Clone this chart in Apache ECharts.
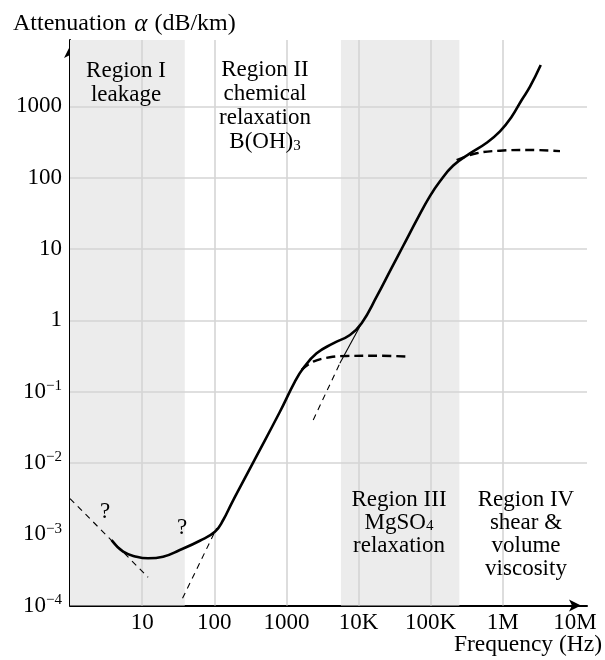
<!DOCTYPE html>
<html><head><meta charset="utf-8">
<script src="https://cdn.jsdelivr.net/npm/echarts@6/dist/echarts.min.js"></script>
<style>html,body{margin:0;padding:0;background:#fff}#c{width:605px;height:660px}</style>
</head><body><div id="c"></div>
<script>
// ---- tick labels ----
const xTickValues = [10, 100, 1000, 1e4, 1e5, 1e6, 1e7];
const xTickLabels = ['10', '100', '1000', '10K', '100K', '1M', '10M'];
const yTickValues = [1e-4, 1e-3, 1e-2, 1e-1, 1, 10, 100, 1000];
const yTickLabels = ['10^−4', '10^−3', '10^−2', '10^−1', '1', '10', '100', '1000'];
const xGridValues = [10, 100, 1000, 1e4, 1e5, 1e6];
const yGridValues = [1e-3, 1e-2, 1e-1, 1, 10, 100, 1000];
// shaded frequency bands (Hz)
const shadeBands = [[1, 39], [5700, 250000]];

// ---- total attenuation curve ----
const mainFreq = [3.76, 5.46, 8.36, 12.1, 19.5, 33.3, 63.1, 102, 133, 174, 239, 347, 813, 1312, 1710, 2624, 4457, 7603, 11040, 17820, 28770, 41690, 67300, 97720, 134600, 205600, 350800, 598400, 914100, 1327000, 1828000, 2382000, 3357000];
const mainAtten = [8.3e-4, 5.69e-4, 4.83e-4, 4.59e-4, 4.83e-4, 6.0e-4, 8.1e-4, 1.08e-3, 1.58e-3, 2.71e-3, 5.0e-3, 0.0102, 0.0522, 0.138, 0.212, 0.344, 0.475, 0.622, 0.908, 2.14, 5.42, 11.1, 27.9, 55, 89, 148, 219, 309, 447, 716, 1230, 1888, 3802];

// ---- B(OH)3 relaxation plateau ----
const boricFreq = [1626, 2355, 4009, 6839, 19820, 46450];
const boricAtten = [0.201, 0.263, 0.303, 0.316, 0.318, 0.31];

// ---- MgSO4 relaxation plateau ----
const mgFreq = [229100, 434500, 914100, 2143000, 6209000];
const mgAtten = [177, 220, 239, 245, 236];

// ---- leakage asymptote ----
const leakFreq = [1, 12.1];
const leakAtten = [3.16e-3, 2.49e-4];

// ---- rising asymptote near 100 Hz ----
const riseFreq = [36.3, 107.6];
const riseAtten = [1.26e-4, 1.21e-3];

// ---- thin asymptote near 10K (dashed part, solid part) ----
const thinDashFreq = [2355, 5508];
const thinDashAtten = [0.040, 0.249];
const thinSolidFreq = [5508, 11040];
const thinSolidAtten = [0.249, 0.908];

const FONT = "'Liberation Serif','Times New Roman',serif";
const pairs = (xs, ys) => xs.map((x, i) => [x, ys[i]]);
function lookup(vals, labels, v) {
  const lv = Math.log10(v);
  for (let i = 0; i < vals.length; i++) {
    if (Math.abs(Math.log10(vals[i]) - lv) < 1e-6) return labels[i];
  }
  return '';
}

const chart = echarts.init(document.getElementById('c'), null, {renderer: 'canvas'});

function lineSeries(data, width, dash, smooth) {
  return {
    type: 'line', data: data, symbol: 'none', showSymbol: false, silent: true,
    smooth: smooth, z: 5,
    lineStyle: {color: '#000', width: width, type: dash}
  };
}

const axisLine = {
  show: true, symbol: ['none', 'arrow'], symbolSize: [9, 12], symbolOffset: [0, -6],
  lineStyle: {color: '#000', width: 2}
};

const option = {
  animation: false,
  backgroundColor: '#fff',
  grid: {left: 70, right: 18, top: 40, bottom: 54.5, containLabel: false},
  xAxis: {
    type: 'log', logBase: 10, min: 1, max: 1.47e7,
    axisLine: axisLine, axisTick: {show: false}, splitLine: {show: false},
    axisLabel: {
      margin: 6, color: '#000', fontFamily: FONT, fontSize: 23, lineHeight: 23,
      formatter: v => lookup(xTickValues, xTickLabels, v)
    }
  },
  yAxis: {
    type: 'log', logBase: 10, min: 1e-4, max: 8530,
    axisLine: axisLine, axisTick: {show: false}, splitLine: {show: false},
    axisLabel: {
      margin: 8, color: '#000',
      formatter: v => {
        const t = lookup(yTickValues, yTickLabels, v);
        if (!t) return '';
        const p = t.split('^');
        return p.length > 1 ? '{b|' + p[0] + '}{s|' + p[1] + '}' : '{b|' + t + '}';
      },
      rich: {
        b: {fontFamily: FONT, fontSize: 23, color: '#000', lineHeight: 26},
        s: {fontFamily: FONT, fontSize: 15, color: '#000', verticalAlign: 'top', lineHeight: 16}
      }
    }
  },
  series: [
    {
      type: 'line', data: [], silent: true, z: 1,
      markArea: {
        silent: true, itemStyle: {color: '#ececec'},
        data: shadeBands.map(b => [{xAxis: b[0]}, {xAxis: b[1]}])
      }
    },
    {
      type: 'line', data: [], silent: true, z: 2,
      markLine: {
        silent: true, symbol: ['none', 'none'], label: {show: false},
        lineStyle: {color: '#d5d5d5', width: 1.6, type: 'solid'},
        emphasis: {disabled: true},
        data: xGridValues.map(v => ({xAxis: v})).concat(yGridValues.map(v => ({yAxis: v})))
      }
    },
    lineSeries(pairs(mainFreq, mainAtten), 2.6, 'solid', 0.45),
    lineSeries(pairs(boricFreq, boricAtten), 2.4, [9, 5], 0.4),
    lineSeries(pairs(mgFreq, mgAtten), 2.4, [9, 5], 0.4),
    lineSeries(pairs(leakFreq, leakAtten), 1.1, [6, 5], false),
    lineSeries(pairs(riseFreq, riseAtten), 1.1, [6, 5], false),
    lineSeries(pairs(thinDashFreq, thinDashAtten), 1.1, [6, 5], false),
    lineSeries(pairs(thinSolidFreq, thinSolidAtten), 1.1, 'solid', false)
  ],
  graphic: [
    {type: 'text', x: 13, y: 24, z: 10, style: {
      text: 'Attenuation {a|α} (dB/km)', fontFamily: FONT, fontSize: 24, fill: '#000',
      verticalAlign: 'middle', align: 'left',
      rich: {a: {fontFamily: FONT, fontSize: 25, fontStyle: 'italic', fill: '#000', padding: [0, 1, 0, 2]}}
    }},
    {type: 'text', x: 602, y: 645, z: 10, style: {
      text: 'Frequency (Hz)', fontFamily: FONT, fontSize: 23.5, fill: '#000',
      verticalAlign: 'middle', align: 'right'
    }},
    {type: 'text', x: 126, y: 59, z: 10, style: {
      text: 'Region I\nleakage', fontFamily: FONT, fontSize: 23, lineHeight: 24, fill: '#000',
      align: 'center', verticalAlign: 'top'
    }},
    {type: 'text', x: 265, y: 58, z: 10, style: {
      text: 'Region II\nchemical\nrelaxation\nB(OH){sub|3}', fontFamily: FONT, fontSize: 23, lineHeight: 24, fill: '#000',
      align: 'center', verticalAlign: 'top',
      rich: {sub: {fontFamily: FONT, fontSize: 15, verticalAlign: 'bottom', fill: '#000', lineHeight: 16}}
    }},
    {type: 'text', x: 399, y: 488, z: 10, style: {
      text: 'Region III\nMgSO{sub|4}\nrelaxation', fontFamily: FONT, fontSize: 23, lineHeight: 23, fill: '#000',
      align: 'center', verticalAlign: 'top',
      rich: {sub: {fontFamily: FONT, fontSize: 15, verticalAlign: 'bottom', fill: '#000', lineHeight: 16}}
    }},
    {type: 'text', x: 526, y: 488, z: 10, style: {
      text: 'Region IV\nshear &\nvolume\nviscosity', fontFamily: FONT, fontSize: 23, lineHeight: 23, fill: '#000',
      align: 'center', verticalAlign: 'top'
    }},
    {type: 'text', x: 105, y: 512, z: 10, style: {
      text: '?', fontFamily: FONT, fontSize: 23, fill: '#000', align: 'center', verticalAlign: 'middle'
    }},
    {type: 'text', x: 182, y: 528, z: 10, style: {
      text: '?', fontFamily: FONT, fontSize: 23, fill: '#000', align: 'center', verticalAlign: 'middle'
    }}
  ]
};
chart.setOption(option);
</script></body></html>
